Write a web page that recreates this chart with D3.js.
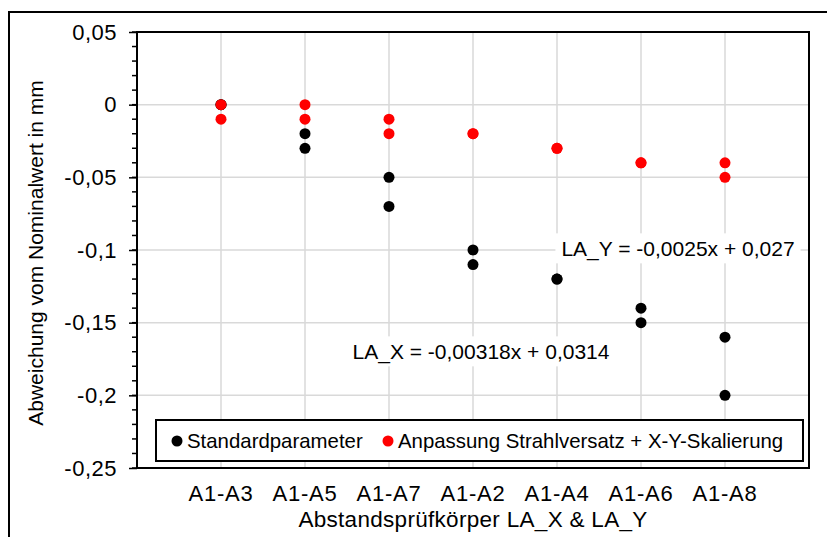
<!DOCTYPE html>
<html>
<head>
<meta charset="utf-8">
<script src="https://cdn.jsdelivr.net/npm/d3@7"></script>
<style>
  body { margin: 0; background: #fff; }
  text { font-family: "Liberation Sans", Arial, sans-serif; fill: #000; }
</style>
</head>
<body>
<div id="chart"></div>
<script>
// categories along the x axis
var categories = ["A1-A3", "A1-A5", "A1-A7", "A1-A2", "A1-A4", "A1-A6", "A1-A8"];

// two measurements per category and series
var standardFirst = [0, -0.02, -0.05, -0.10, -0.12, -0.14, -0.16];
var standardSecond = [0, -0.03, -0.07, -0.11, -0.12, -0.15, -0.20];
var adjustedFirst = [0, 0, -0.01, -0.02, -0.03, -0.04, -0.04];
var adjustedSecond = [-0.01, -0.01, -0.02, -0.02, -0.03, -0.04, -0.05];

var yTicks = [0.05, 0, -0.05, -0.1, -0.15, -0.2, -0.25];
var yTickLabels = ["0,05", "0", "-0,05", "-0,1", "-0,15", "-0,2", "-0,25"];

var svgWidth = 827;
var svgHeight = 537;

var margin = { top: 32, right: 18, bottom: 69, left: 137 };
var width = svgWidth - margin.left - margin.right;
var height = svgHeight - margin.top - margin.bottom;

var svg = d3.select("#chart")
  .append("svg")
  .attr("width", svgWidth)
  .attr("height", svgHeight);

// outer chart frame (cut off at right and bottom)
svg.append("rect")
  .attr("x", 9)
  .attr("y", 12)
  .attr("width", 840)
  .attr("height", 560)
  .attr("fill", "none")
  .attr("stroke", "#000")
  .attr("stroke-width", 2);

var chartGroup = svg.append("g")
  .attr("transform", `translate(${margin.left}, ${margin.top})`);

var xScale = d3.scaleLinear()
  .domain([0, categories.length + 1])
  .range([0, width]);

var yScale = d3.scaleLinear()
  .domain([-0.25, 0.05])
  .range([height, 0]);

// gridlines
chartGroup.append("g")
  .selectAll("line")
  .data(yTicks)
  .enter()
  .append("line")
  .attr("x1", 0)
  .attr("x2", width)
  .attr("y1", d => yScale(d))
  .attr("y2", d => yScale(d))
  .attr("stroke", "#d9d9d9")
  .attr("stroke-width", 1.5);

chartGroup.append("g")
  .selectAll("line")
  .data(categories)
  .enter()
  .append("line")
  .attr("x1", (d, i) => xScale(i + 1))
  .attr("x2", (d, i) => xScale(i + 1))
  .attr("y1", 0)
  .attr("y2", height)
  .attr("stroke", "#d9d9d9")
  .attr("stroke-width", 1.5);

// y axis with minor ticks
var minorTicks = d3.range(-25, 6).map(d => d / 100);
chartGroup.append("g")
  .selectAll("line")
  .data(minorTicks)
  .enter()
  .append("line")
  .attr("x1", -5)
  .attr("x2", 0)
  .attr("y1", d => yScale(d))
  .attr("y2", d => yScale(d))
  .attr("stroke", "#000")
  .attr("stroke-width", 1.5);

var leftAxis = d3.axisLeft(yScale)
  .tickValues(yTicks)
  .tickFormat((d, i) => yTickLabels[i])
  .tickSize(8)
  .tickPadding(12);

var yAxis = chartGroup.append("g")
  .call(leftAxis);
yAxis.select(".domain").remove();
yAxis.selectAll(".tick line").attr("stroke", "#000").attr("stroke-width", 1.5);
yAxis.selectAll("text")
  .attr("font-family", "Liberation Sans, Arial, sans-serif")
  .attr("font-size", "22px")
  .attr("letter-spacing", "0.5px")
  .attr("fill", "#000");

// x axis labels
chartGroup.append("g")
  .selectAll("text")
  .data(categories)
  .enter()
  .append("text")
  .attr("x", (d, i) => xScale(i + 1))
  .attr("y", height + 25)
  .attr("dy", "0.35em")
  .attr("text-anchor", "middle")
  .attr("font-size", "22px")
  .attr("letter-spacing", "0.8px")
  .text(d => d);

chartGroup.append("text")
  .attr("x", width / 2)
  .attr("y", height + 59)
  .attr("text-anchor", "middle")
  .attr("font-size", "22.5px")
  .attr("letter-spacing", "0.3px")
  .text("Abstandsprüfkörper LA_X & LA_Y");

chartGroup.append("text")
  .attr("transform", `translate(${36 - margin.left}, ${height / 2 + 3}) rotate(-90)`)
  .attr("text-anchor", "middle")
  .attr("dy", "0.35em")
  .attr("font-size", "21px")
  .text("Abweichung vom Nominalwert in mm");

// trend line equations
function addLabel(cx, cy, label) {
  var g = svg.append("g");
  var t = g.append("text")
    .attr("x", cx)
    .attr("y", cy)
    .attr("text-anchor", "middle")
    .attr("dy", "0.35em")
    .attr("font-size", "21px")
    .text(label);
  var b = t.node().getBBox();
  g.insert("rect", "text")
    .attr("x", b.x - 6)
    .attr("y", b.y - 4)
    .attr("width", b.width + 12)
    .attr("height", b.height + 6)
    .attr("fill", "#fff");
}
addLabel(678, 249, "LA_Y = -0,0025x + 0,027");
addLabel(481, 352, "LA_X = -0,00318x + 0,0314");

// points
function addPoints(values, color) {
  chartGroup.append("g")
    .selectAll("circle")
    .data(values)
    .enter()
    .append("circle")
    .attr("cx", (d, i) => xScale(i + 1))
    .attr("cy", d => yScale(d))
    .attr("r", 5.5)
    .attr("fill", color);
}
addPoints(standardFirst, "#000");
addPoints(standardSecond, "#000");
addPoints(adjustedFirst, "#ff0000");
addPoints(adjustedSecond, "#ff0000");

// legend
var legend = svg.append("g");
legend.append("rect")
  .attr("x", 156)
  .attr("y", 420)
  .attr("width", 647)
  .attr("height", 41)
  .attr("fill", "#fff")
  .attr("stroke", "#000")
  .attr("stroke-width", 2);

var legendItems = [
  { label: "Standardparameter", color: "#000", x: 177 },
  { label: "Anpassung Strahlversatz + X-Y-Skalierung", color: "#ff0000", x: 388 }
];
legendItems.forEach(function(item) {
  legend.append("circle")
    .attr("cx", item.x)
    .attr("cy", 441)
    .attr("r", 5.5)
    .attr("fill", item.color);
  legend.append("text")
    .attr("x", item.x + 10)
    .attr("y", 441)
    .attr("dy", "0.35em")
    .attr("font-size", "20.4px")
    .text(item.label);
});

// plot area border
chartGroup.append("rect")
  .attr("width", width)
  .attr("height", height)
  .attr("fill", "none")
  .attr("stroke", "#000")
  .attr("stroke-width", 2);
</script>
</body>
</html>
